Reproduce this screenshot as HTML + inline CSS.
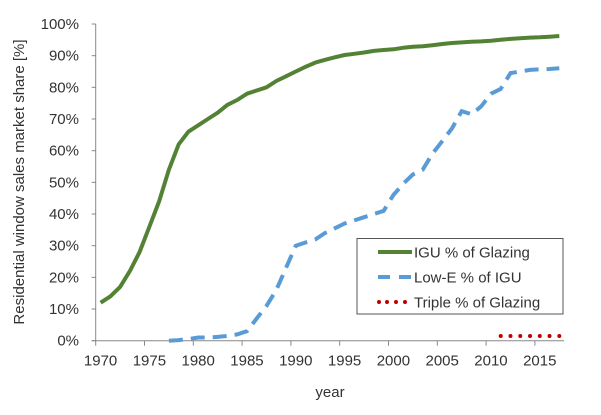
<!DOCTYPE html>
<html><head><meta charset="utf-8"><style>
body{margin:0;background:#fff;}
svg text{font-family:"Liberation Sans",sans-serif;fill:#333;}
</style></head><body>
<svg width="601" height="410" id="chart">
<rect x="0" y="0" width="601" height="410" fill="#fff"/>
</svg>
<script>
const years=[];for(let y=1970;y<=2017;y++)years.push(y);
const igu=[12,14,17,22,28,36,44,54,62,66,68,70,72,74.5,76,78,79,80,82,83.5,85,86.5,87.8,88.7,89.5,90.2,90.6,91,91.5,91.8,92,92.5,92.8,93,93.3,93.7,94,94.2,94.4,94.5,94.7,95,95.3,95.5,95.7,95.8,96,96.2];
const lowEYears=[1977,1978,1979,1980,1981,1982,1983,1984,1985,1986,1987,1988,1989,1990,1991,1992,1993,1994,1995,1996,1997,1998,1999,2000,2001,2002,2003,2004,2005,2006,2007,2008,2009,2010,2011,2012,2013,2014,2015,2016,2017];
const lowE=[0,0.2,0.5,1,1,1.2,1.5,2,3,7,11,16,23,30,31,32,34,35.5,37,38,39,40,41,46,49.5,52.5,54,59,63,67,72.5,71.5,74,78,79.5,84.5,85,85.5,85.7,85.8,86];
const tripleYears=[2011,2012,2013,2014,2015,2016,2017];
const triple=[1.5,1.5,1.5,1.5,1.5,1.5,1.5];
const yTicks=[0,10,20,30,40,50,60,70,80,90,100];
const xTickLabels=[1970,1975,1980,1985,1990,1995,2000,2005,2010,2015];

const X0=95.7,CW=9.76,Y0=340.7,YS=3.167;
const xs=y=>X0+(y-1970+0.5)*CW;
const ys=v=>Y0-v*YS;
const svg=document.getElementById('chart');
const NS='http://www.w3.org/2000/svg';
function mk(tag,attrs,parent){const e=document.createElementNS(NS,tag);for(const k in attrs)e.setAttribute(k,attrs[k]);(parent||svg).appendChild(e);return e;}

// axes
let ax=mk('line',{x1:X0,y1:ys(100),x2:X0,y2:Y0,stroke:'#888','stroke-width':1});


let bx=mk('line',{x1:X0-4,y1:Y0,x2:X0+48*CW,y2:Y0,stroke:'#888','stroke-width':1});


yTicks.forEach(v=>{
  const t=mk('line',{x1:X0-4,y1:ys(v),x2:X0,y2:ys(v),stroke:'#888'});
  
  
  const l=mk('text',{x:79,y:ys(v)+5,'text-anchor':'end','font-size':15});
  l.textContent=v+'%';
  
  
});
for(let i=0;i<=48;i+=5){
  const x=X0+i*CW;
  const t=mk('line',{x1:x,y1:Y0,x2:x,y2:Y0+5,stroke:'#888'});
  
  
}
xTickLabels.forEach(y=>{
  const l=mk('text',{x:xs(y),y:Y0+25,'text-anchor':'middle','font-size':15});
  l.textContent=y;
  
  
});
let xt=mk('text',{x:330,y:397,'text-anchor':'middle','font-size':15});
xt.textContent='year';


let yt=mk('text',{x:0,y:0,'text-anchor':'middle','font-size':15,transform:'translate(24,182) rotate(-90)'});
yt.textContent='Residential window sales market share [%]';



function path(xv,yv){return xv.map((x,i)=>(i?'L':'M')+xs(x).toFixed(1)+','+ys(yv[i]).toFixed(1)).join('');}
let p1=mk('path',{d:path(years,igu),fill:'none',stroke:'#548235','stroke-width':4,'stroke-linejoin':'round'});


let p2=mk('path',{d:path(lowEYears,lowE),fill:'none',stroke:'#5b9bd5','stroke-width':4,'stroke-dasharray':'14,8'});


tripleYears.forEach((y,i)=>{
  const c=mk('circle',{cx:xs(y),cy:ys(triple[i]),r:2,fill:'#c00000'});
  
  
});

// legend
const lg=mk('g',{});


mk('rect',{x:357,y:238.5,width:206,height:75.5,fill:'#fff',stroke:'#555','stroke-width':1},lg);
const ent=[['IGU % of Glazing',252],['Low-E % of IGU',277],['Triple % of Glazing',302]];
mk('line',{x1:378,y1:252,x2:412,y2:252,stroke:'#548235','stroke-width':4},lg);
mk('line',{x1:378,y1:277,x2:412,y2:277,stroke:'#5b9bd5','stroke-width':4,'stroke-dasharray':'12,9'},lg);
[379,387,396,405].forEach(x=>mk('circle',{cx:x,cy:302,r:2,fill:'#c00000'},lg));
ent.forEach(([t,y])=>{
  const e=mk('text',{x:414,y:y+5.5,'font-size':15},lg);
  e.textContent=t;
  
  
});
</script>
</body></html>
